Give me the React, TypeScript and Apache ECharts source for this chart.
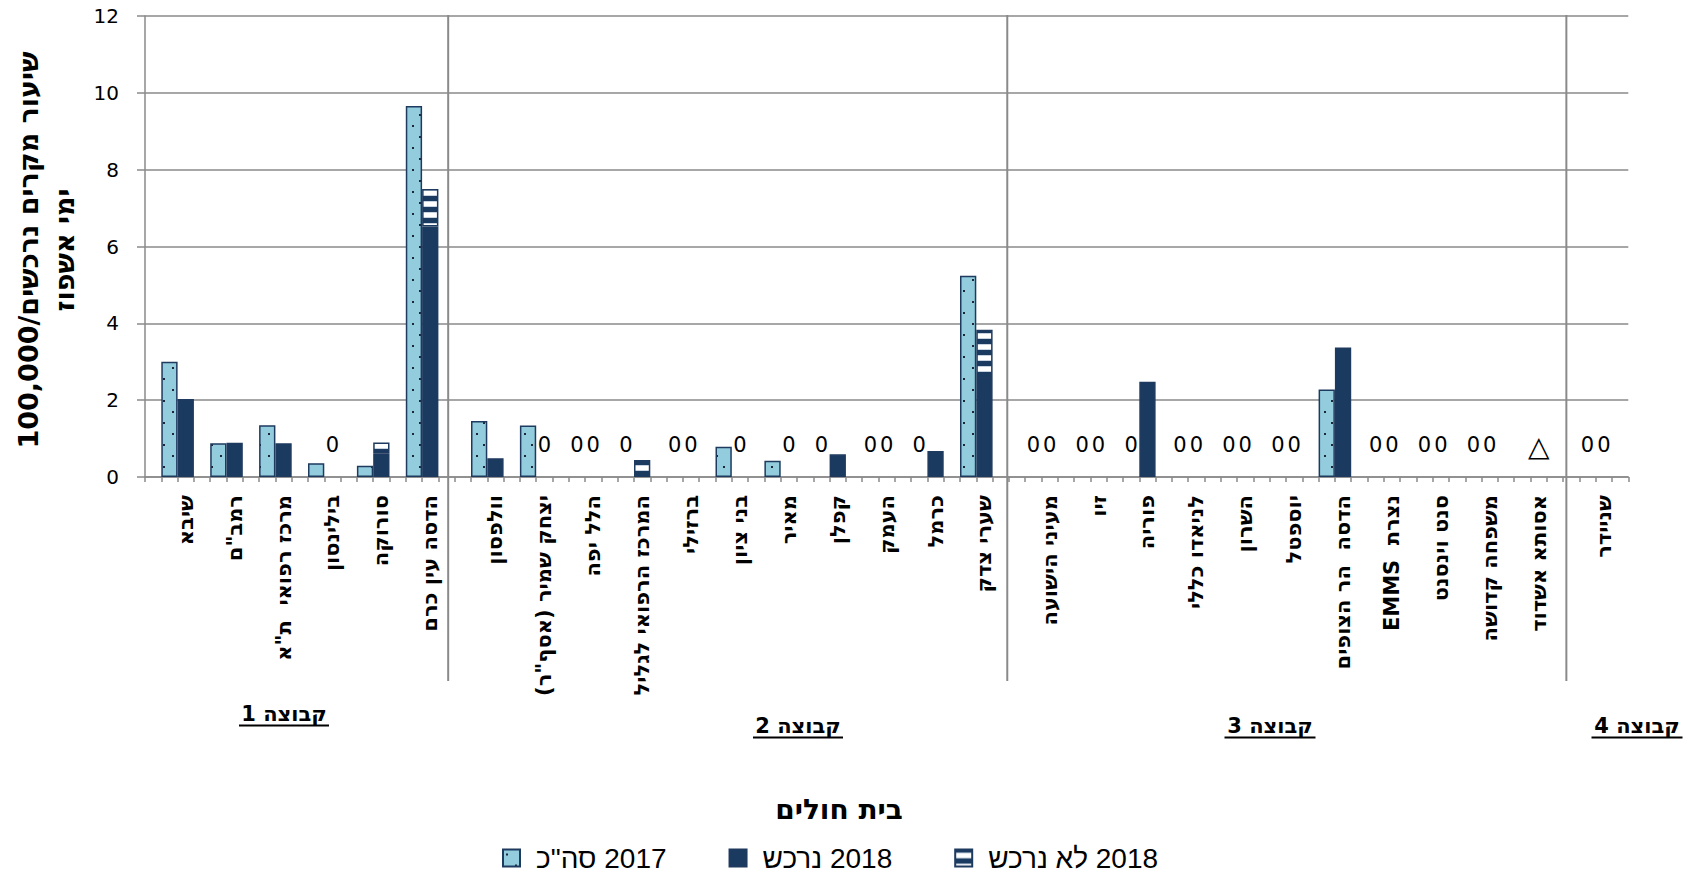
import React, { useEffect, useRef } from 'react';
import * as echarts from 'echarts';

// ---------- data ----------
const group1 = ['שיבא', 'רמב"ם', 'מרכז רפואי\u00A0\u00A0ת"א', 'בילינסון', 'סורוקה', 'הדסה עין כרם'];
const group2 = ['וולפסון', 'יצחק שמיר (אסף"ר)', 'הלל יפה', 'המרכז הרפואי לגליל', 'ברזילי', 'בני ציון', 'מאיר', 'קפלן', 'העמק', 'כרמל', 'שערי צדק'];
const group3 = ['מעיני הישועה', 'זיו', 'פוריה', 'לניאדו כללי', 'השרון', 'יוספטל', 'הדסה\u00A0\u00A0הר הצופים', 'נצרת\u00A0\u00A0EMMS', 'סנט וינסנט', 'משפחה קדושה', 'אסותא אשדוד'];
const group4 = ['שניידר'];
const groupNames = ['קבוצה 1', 'קבוצה 2', 'קבוצה 3', 'קבוצה 4'];

// 2017 total (null = no data)
const rate2017 = [
  3.0, 0.88, 1.35, 0.36, 0.29, 9.66,
  1.46, 1.34, 0, 0, 0, 0.79, 0.42, 0, 0, 0, 5.24,
  0, 0, 0, 0, 0, 0, 2.28, 0, 0, 0, null,
  0,
];
// 2018 purchased (נרכש)
const purchased2018 = [
  2.03, 0.89, 0.88, 0, 0.62, 6.52,
  0.49, 0, 0, 0, 0, 0, 0, 0.59, 0, 0.68, 2.58,
  0, 0, 2.48, 0, 0, 0, 3.37, 0, 0, 0, null,
  0,
];
// 2018 not purchased (לא נרכש)
const notPurchased2018 = [
  0, 0, 0, 0, 0.28, 0.98,
  0, 0, 0, 0.44, 0, 0, 0, 0, 0, 0, 1.25,
  0, 0, 0, 0, 0, 0, 0, 0, 0, 0, null,
  0,
];
const seriesNames = ['2017 סה"כ', '2018 נרכש', '2018 לא נרכש'];
const yTicks = { min: 0, max: 12, interval: 2 };
const noDataMark = '△';

// layout constants
const separatorSlots = [18.6, 52.9, 87.2];

const RLE = '\u202B';
const PDF = '\u202C';
const rtl = (s: string) => RLE + s + PDF;

const FONT = 'DejaVu Sans';
const GRID = '#8a8a8a';
const NAVY = '#1B3A60';
const BORDER = '#1F3A5F';
const LIGHT = '#93CDDD';

function dotPattern() {
  const c = document.createElement('canvas');
  c.width = 16; c.height = 22;
  const ctx = c.getContext('2d')!;
  ctx.fillStyle = LIGHT; ctx.fillRect(0, 0, 16, 22);
  ctx.fillStyle = '#1c2838';
  ctx.fillRect(3, 4, 2, 2);
  ctx.fillRect(12, 15, 2, 2);
  return { image: c.toDataURL(), repeat: 'repeat', imageWidth: 16, imageHeight: 22 };
}
function stripePattern() {
  const c = document.createElement('canvas');
  c.width = 4; c.height = 11;
  const ctx = c.getContext('2d')!;
  ctx.fillStyle = NAVY; ctx.fillRect(0, 0, 4, 11);
  ctx.fillStyle = '#c9d3e0'; ctx.fillRect(0, 3, 4, 1); ctx.fillRect(0, 8, 4, 1);
  ctx.fillStyle = '#ffffff'; ctx.fillRect(0, 4, 4, 4);
  return { image: c.toDataURL(), repeat: 'repeat', imageWidth: 4, imageHeight: 11 };
}

export default function App() {
  const ref = useRef<HTMLDivElement>(null);
  useEffect(() => {
    const chart = echarts.init(ref.current!, null, { renderer: 'svg' });
    const groups = [group1, group2, group3, group4];

    const slotIds: string[] = [];
    const slotLabels: string[] = [];
    const d2017: any[] = [];
    const dA: any[] = [];
    const dB: any[] = [];
    const zeroLabel = { show: true, formatter: '0' };
    const pushSlot = (label: string, a: any, b: any, c: any) => {
      slotIds.push('s' + slotIds.length);
      slotLabels.push(label);
      d2017.push(a); dA.push(b); dB.push(c);
    };
    let h = 0;
    groups.forEach((g) => {
      g.forEach((name) => {
        pushSlot('', '-', '-', '-');
        const v17 = rate2017[h];
        let item17: any = '-';
        if (v17 === 0) item17 = { value: 0, itemStyle: { borderWidth: 0 }, label: zeroLabel };
        else if (v17 != null) item17 = v17;
        pushSlot('', item17, '-', '-');
        const a = purchased2018[h];
        const b = notPurchased2018[h];
        let itemA: any;
        let itemB: any = '-';
        if (a == null) {
          itemA = { value: 0, itemStyle: { borderWidth: 0 }, label: { show: true, formatter: noDataMark, fontSize: 28, distance: 17 } };
        } else if (a + (b || 0) === 0) {
          itemA = { value: 0, itemStyle: { borderWidth: 0 }, label: zeroLabel };
        } else {
          itemA = a === 0 ? { value: 0, itemStyle: { borderWidth: 0 } } : a;
          if (b) itemB = b;
        }
        pushSlot(rtl(name), '-', itemA, itemB);
        h++;
      });
      pushSlot('', '-', '-', '-');
    });

    const dots = dotPattern();
    const stripes = stripePattern();
    const labelCommon = {
      show: false,
      position: 'top',
      distance: 22,
      fontFamily: FONT,
      fontSize: 21,
      color: '#000',
    };

    const option: any = {
      animation: false,
      textStyle: { fontFamily: FONT },
      grid: { left: 145, top: 16, width: 1483.3, height: 461, containLabel: false },
      xAxis: [
        {
          type: 'category',
          data: slotIds,
          boundaryGap: true,
          axisLine: { show: true, lineStyle: { color: GRID, width: 1.5 } },
          axisTick: { show: true, interval: 0, length: 5, alignWithLabel: false, lineStyle: { color: GRID, width: 1.5 } },
          axisLabel: {
            interval: 0,
            rotate: 90,
            margin: 18,
            formatter: (_v: string, i: number) => slotLabels[i],
            fontFamily: FONT,
            fontWeight: 'bold',
            fontSize: 21,
            color: '#000',
          },
          splitLine: { show: false },
        },
        { type: 'value', min: 0, max: slotIds.length, show: false },
      ],
      yAxis: {
        type: 'value',
        min: yTicks.min,
        max: yTicks.max,
        interval: yTicks.interval,
        axisLine: { show: true, lineStyle: { color: GRID, width: 1.5 } },
        axisTick: { show: true, length: 8, lineStyle: { color: GRID, width: 1.5 } },
        axisLabel: { fontFamily: FONT, fontSize: 20, color: '#000', margin: 26 },
        splitLine: { show: true, lineStyle: { color: GRID, width: 1.5 } },
      },
      legend: {
        left: 497,
        top: 839,
        itemWidth: 17,
        itemHeight: 17,
        itemGap: 62,
        icon: 'rect',
        data: seriesNames,
        formatter: (n: string) => rtl(n),
        textStyle: { fontFamily: 'Liberation Sans', fontSize: 28, color: '#000', padding: [0, 0, 0, 11] },
      },
      series: [
        {
          name: seriesNames[0],
          type: 'bar',
          data: d2017,
          barWidth: '100%',
          barGap: '-100%',
          barCategoryGap: 0,
          itemStyle: { color: dots, borderColor: BORDER, borderWidth: 1.5 },
          label: labelCommon,
        },
        {
          name: seriesNames[1],
          type: 'bar',
          stack: 'y2018',
          data: dA,
          barWidth: '100%',
          barGap: '-100%',
          itemStyle: { color: NAVY, borderColor: BORDER, borderWidth: 1.5 },
          label: labelCommon,
        },
        {
          name: seriesNames[2],
          type: 'bar',
          stack: 'y2018',
          data: dB,
          barWidth: '100%',
          barGap: '-100%',
          itemStyle: { color: stripes, borderColor: BORDER, borderWidth: 1.5 },
        },
      ],
    };
    chart.setOption(option);

    const groupLabelPos = [
      { x: 284, y: 714, w: 90 },
      { x: 798, y: 726, w: 90 },
      { x: 1270, y: 726, w: 91 },
      { x: 1637, y: 726, w: 91 },
    ];
    const graphics: any[] = [];
    separatorSlots.forEach((s, i) => {
      const x = chart.convertToPixel({ xAxisIndex: 1 }, s) as number;
      graphics.push({
        type: 'line', id: 'sep' + i, z: 5,
        shape: { x1: x, y1: 15, x2: x, y2: 681 },
        style: { stroke: GRID, lineWidth: 2 },
      });
    });
    groupNames.forEach((g, i) => {
      const p = groupLabelPos[i];
      graphics.push({
        type: 'text', id: 'grp' + i,
        x: p.x, y: p.y,
        style: { text: rtl(g), fontFamily: FONT, fontWeight: 'bold', fontSize: 21, fill: '#000', align: 'center', verticalAlign: 'middle' },
      });
      graphics.push({
        type: 'line', id: 'grpu' + i,
        shape: { x1: p.x - p.w / 2, y1: p.y + 11.5, x2: p.x + p.w / 2, y2: p.y + 11.5 },
        style: { stroke: '#000', lineWidth: 2 },
      });
    });
    graphics.push({
      type: 'text', id: 'xtitle', x: 839, y: 809,
      style: { text: rtl('בית חולים'), fontFamily: FONT, fontWeight: 'bold', fontSize: 28, fill: '#000', align: 'center', verticalAlign: 'middle' },
    });
    graphics.push({
      type: 'text', id: 'ytitle', x: 46, y: 250, rotation: Math.PI / 2,
      style: {
        text: rtl('שיעור מקרים נרכשים/100,000') + '\n' + rtl('ימי אשפוז'),
        fontFamily: FONT, fontWeight: 'bold', fontSize: 27, lineHeight: 36, fill: '#000', align: 'center', verticalAlign: 'middle',
      },
    });
    chart.setOption({ graphic: graphics });

    return () => chart.dispose();
  }, []);
  return <div ref={ref} style={{ position: 'fixed', left: 0, top: 0, width: 1702, height: 877, background: '#fff' }} />;
}
